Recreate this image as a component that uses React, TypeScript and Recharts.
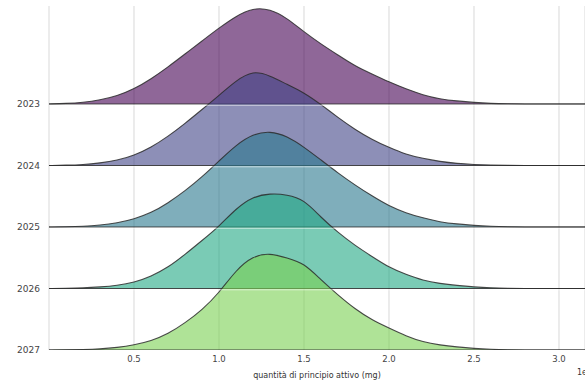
// Ridgeline (joyplot) of active-ingredient quantity per year
import { ComposedChart, Area, XAxis, YAxis, CartesianGrid, ReferenceLine } from "recharts";

const YEARS = ["2023", "2024", "2025", "2026", "2027"];
const COLORS = ["#440154", "#414487", "#2a788e", "#22a884", "#7ad151"];

// x in units of 1e6 mg
const X_VALUES = [
  0, 0.1, 0.2, 0.3, 0.4, 0.5, 0.6, 0.7, 0.8, 0.9, 1.0,
  1.1, 1.2, 1.3, 1.4, 1.5, 1.6, 1.7, 1.8, 1.9, 2.0,
  2.1, 2.2, 2.3, 2.4, 2.5, 2.6, 2.7, 2.8, 2.9, 3.0, 3.1, 3.2,
];
const X_TICKS = [0.5, 1.0, 1.5, 2.0, 2.5, 3.0];

// density heights (same scale for all rows; ROW = spacing between baselines)
const D2023 = [0, 0.5, 1.5, 4, 8, 15, 25, 37, 50, 63, 76, 88, 96, 95, 86, 72, 60, 49, 38, 30, 22, 15, 9, 5, 3, 1.5, 0.5, 0.2, 0, 0, 0, 0, 0];
const D2024 = [0, 0.3, 0.8, 2.5, 5, 10, 18, 29, 42, 56, 70, 85, 95, 90, 81, 73, 61, 48, 36, 26, 18, 11, 7, 4, 2, 1, 0.4, 0.1, 0, 0, 0, 0, 0];
const D2025 = [0, 0.2, 0.6, 1.8, 4, 8, 14, 24, 36, 50, 66, 82, 93, 96, 91, 80, 67, 54, 42, 31, 21, 14, 9, 5, 3, 1.5, 0.6, 0.2, 0, 0, 0, 0, 0];
const D2026 = [0, 0.2, 0.5, 1.5, 3, 6, 12, 21, 34, 48, 62, 80, 92, 95, 94, 89, 71, 56, 43, 32, 21, 14, 8, 5, 3, 1.5, 0.6, 0.2, 0, 0, 0, 0, 0];
const D2027 = [0, 0.1, 0.4, 1, 2.5, 5, 9, 16, 27, 40, 57, 80, 94, 97, 92, 87, 70, 55, 41, 30, 22, 14, 8, 5, 3, 1.5, 0.6, 0.2, 0, 0, 0, 0, 0];

const SERIES = [D2023, D2024, D2025, D2026, D2027];
const ROW = 61.5;

const data = X_VALUES.map((x, i) => {
  const row: Record<string, number> = { x };
  YEARS.forEach((y, k) => {
    row["d" + y] = SERIES[k][i];
  });
  return row;
});

const baseOf = (k: number) => (YEARS.length - 1 - k) * ROW;
const yTicks = YEARS.map((_, k) => baseOf(k));

const font = "DejaVu Sans, sans-serif";

export default function App() {
  return (
    <div style={{ position: "absolute", left: 0, top: 0, width: 585, height: 381, background: "#fff" }}>
      <ComposedChart width={585} height={381} data={data} margin={{ top: 6, right: 0, bottom: 0, left: 0 }}>
        <CartesianGrid horizontal={false} stroke="#d9d9d9" strokeWidth={1} />
        <XAxis
          dataKey="x"
          type="number"
          domain={[0, 3.153]}
          allowDataOverflow
          ticks={X_TICKS}
          tickFormatter={(v: number) => v.toFixed(1)}
          axisLine={false}
          tickLine={false}
          tickSize={0}
          tickMargin={6}
          height={31}
          tick={{ fontSize: 8.5, fill: "#444", fontFamily: font }}
          label={{ value: "quantità di principio attivo (mg)", position: "insideBottom", offset: 3, fontSize: 8, fill: "#333", fontFamily: font }}
        />
        <YAxis
          type="number"
          domain={[0, 344]}
          allowDataOverflow
          ticks={yTicks}
          tickFormatter={(v: number) => YEARS[YEARS.length - 1 - Math.round(v / ROW)]}
          axisLine={false}
          tickLine={false}
          tickSize={0}
          tickMargin={9}
          width={49}
          tick={{ fontSize: 9, fill: "#444", fontFamily: font }}
        />
        {YEARS.map((y, k) => (
          <Area
            key={y}
            type="basis"
            dataKey={(r: Record<string, number>) => [baseOf(k), baseOf(k) + r["d" + y]]}
            fill={COLORS[k]}
            fillOpacity={0.6}
            stroke="#2b2b2b"
            strokeOpacity={0.85}
            strokeWidth={1.1}
            isAnimationActive={false}
            dot={false}
            activeDot={false}
          />
        ))}
        {YEARS.map((y, k) =>
          k < YEARS.length - 1 ? (
            <ReferenceLine key={"w" + y} y={baseOf(k) - 1.3} stroke="#fff" strokeOpacity={0.55} strokeWidth={1} />
          ) : null
        )}
      </ComposedChart>
      <div style={{ position: "absolute", left: 577, top: 368, fontSize: 8, color: "#333", fontFamily: font, whiteSpace: "nowrap" }}>
        1e6
      </div>
    </div>
  );
}
